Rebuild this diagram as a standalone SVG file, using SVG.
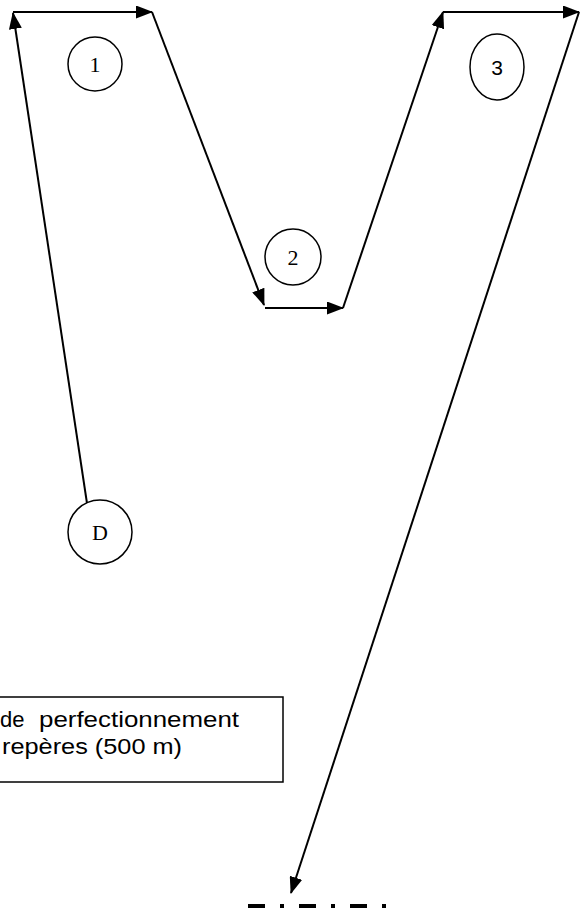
<svg xmlns="http://www.w3.org/2000/svg" width="580" height="915" viewBox="0 0 580 915">
<style>
.c{stroke:#000;stroke-width:2;fill:none}
.n{fill:#fff;stroke:#000;stroke-width:1.5}
.t{font-family:"Liberation Serif","Times New Roman",serif;font-size:22px;fill:#000;text-anchor:middle}
.s{font-family:"Liberation Sans",Arial,sans-serif;font-size:21px;fill:#000;text-anchor:middle}
.b{font-family:"Liberation Sans",Arial,sans-serif;font-size:22px;fill:#000}
</style>
<defs>
<marker id="ah" markerUnits="userSpaceOnUse" markerWidth="17" markerHeight="13" refX="16" refY="6.5" orient="auto">
<path d="M0,0 L17,6.5 L0,13 Z" fill="#000"/>
</marker>
</defs>
<rect width="580" height="915" fill="#fff"/>
<g id="connectors">
<line class="c" x1="88" y1="510" x2="13" y2="13" marker-end="url(#ah)"/>
<line class="c" x1="13" y1="12" x2="152" y2="12" marker-end="url(#ah)"/>
<line class="c" x1="152" y1="12" x2="264" y2="305" marker-end="url(#ah)"/>
<line class="c" x1="265" y1="308" x2="343" y2="308" marker-end="url(#ah)"/>
<line class="c" x1="343" y1="308" x2="443" y2="12" marker-end="url(#ah)"/>
<line class="c" x1="443" y1="12" x2="579" y2="12" marker-end="url(#ah)"/>
<line class="c" x1="579" y1="12" x2="291" y2="893" marker-end="url(#ah)"/>
</g>
<g id="node-1">
<circle class="n" cx="95" cy="64" r="27"/>
<text class="t" x="95" y="72">1</text>
</g>
<g id="node-2">
<circle class="n" cx="293" cy="257" r="28"/>
<text class="t" x="293" y="265">2</text>
</g>
<g id="node-3">
<ellipse class="n" cx="497" cy="67" rx="27" ry="33"/>
<text class="s" x="497" y="75">3</text>
</g>
<g id="node-D">
<circle class="n" cx="100" cy="532" r="32"/>
<text class="t" x="100" y="540">D</text>
</g>
<g id="note">
<rect x="-10" y="697" width="293" height="85" fill="#fff" stroke="#000" stroke-width="1.5"/>
<text class="b" x="0" y="727">de</text>
<text class="b" x="39" y="727" textLength="200" lengthAdjust="spacingAndGlyphs">perfectionnement</text>
<text class="b" x="2" y="754" textLength="180" lengthAdjust="spacingAndGlyphs">repères (500 m)</text>
</g>
<g id="baseline">
<line x1="248" y1="906" x2="392" y2="906" stroke="#000" stroke-width="4" stroke-dasharray="17 15 4 15"/>
</g>
</svg>
